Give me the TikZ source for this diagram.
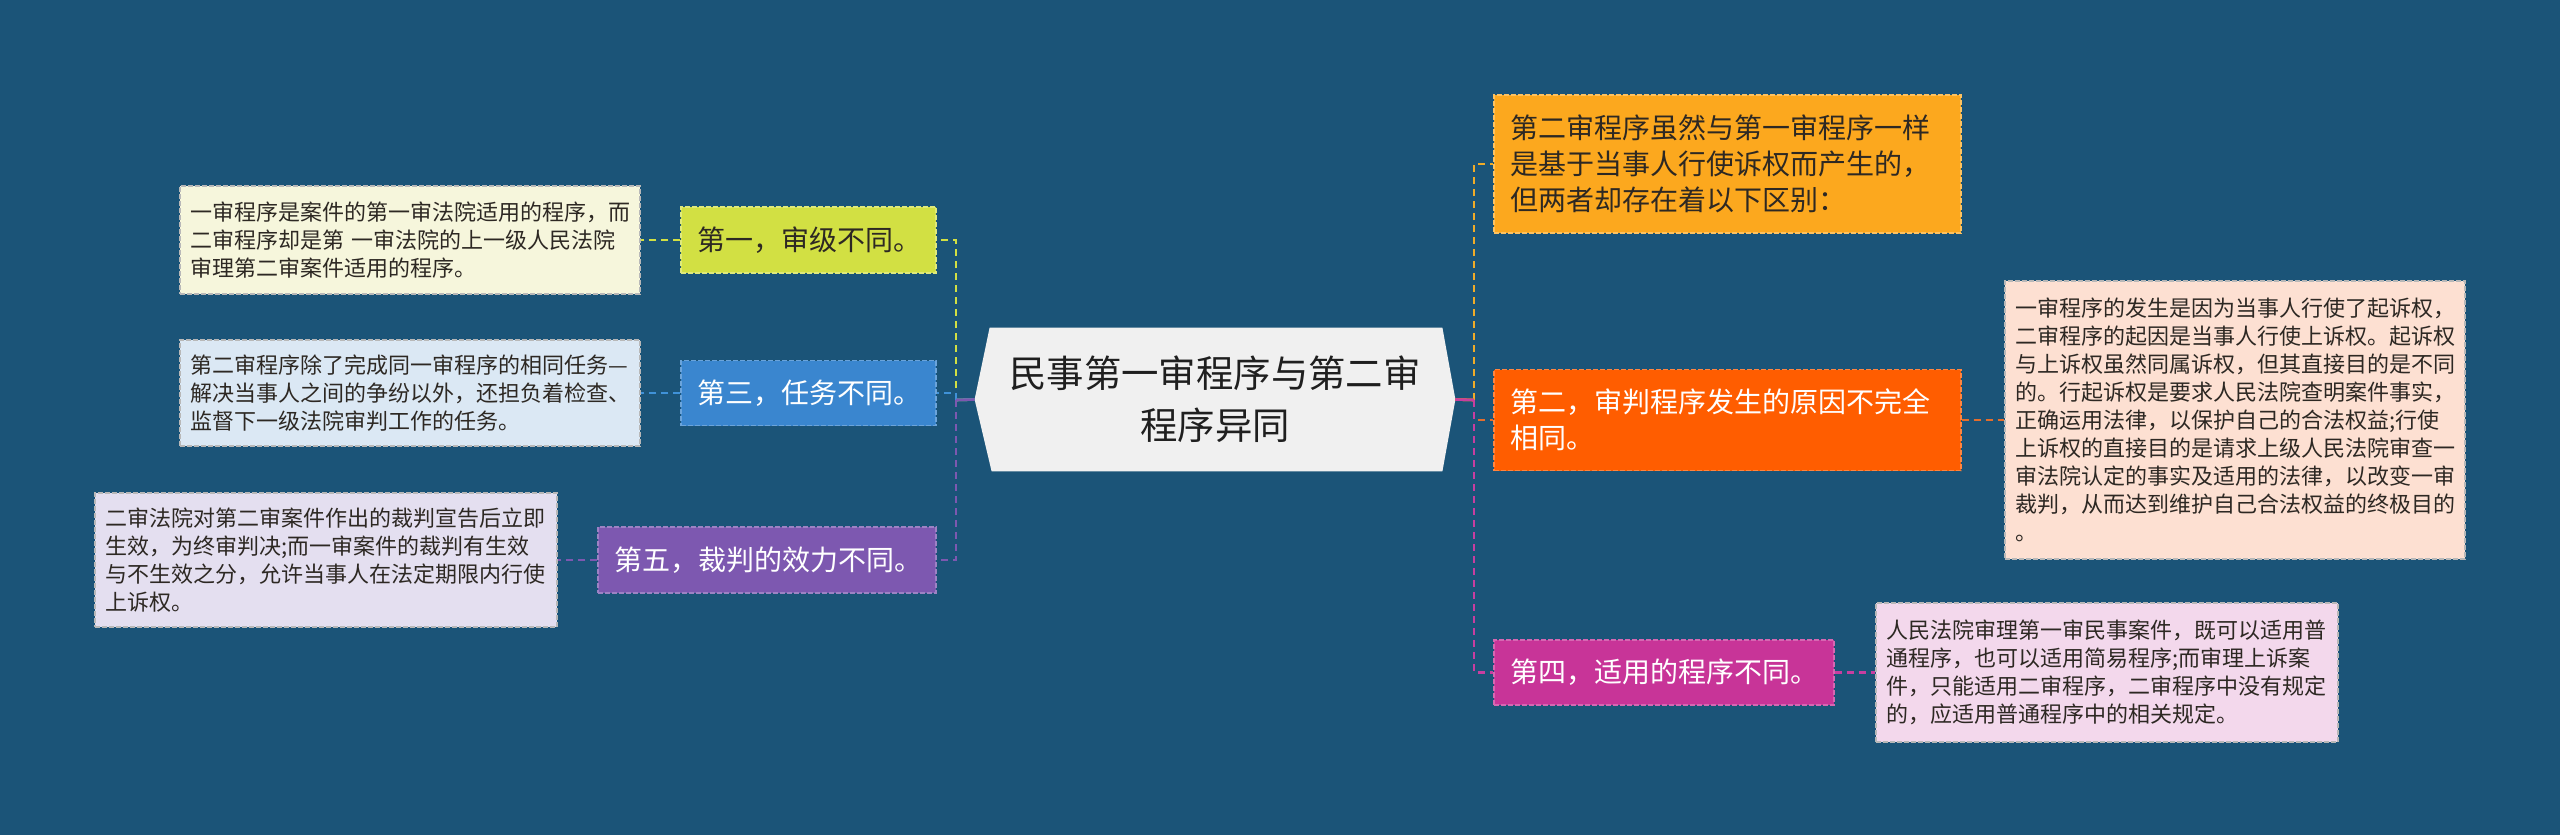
\documentclass[tikz,border=0pt]{standalone}
\usepackage{fontspec}
\setmainfont{Noto Sans CJK SC}
\definecolor{bg}{RGB}{27,84,120}
\definecolor{cyl}{RGB}{210,224,67}
\definecolor{dyl}{RGB}{246,246,220}
\definecolor{cbl}{RGB}{58,134,207}
\definecolor{lbl}{RGB}{64,146,216}
\definecolor{dbl}{RGB}{219,232,244}
\definecolor{cpu}{RGB}{125,88,176}
\definecolor{dpu}{RGB}{228,223,240}
\definecolor{cor}{RGB}{252,168,30}
\definecolor{lor}{RGB}{240,172,40}
\definecolor{crd}{RGB}{255,93,0}
\definecolor{lrd}{RGB}{228,110,45}
\definecolor{drd}{RGB}{253,224,210}
\definecolor{cmg}{RGB}{200,52,152}
\definecolor{lmg}{RGB}{200,62,160}
\definecolor{dmg}{RGB}{243,216,236}
\definecolor{cen}{RGB}{240,240,240}
\definecolor{dtxt}{RGB}{45,40,35}
\tikzset{
  conn/.style={line width=1.3pt, dash pattern=on 3.5pt off 2.5pt},
  stem/.style={line width=1.3pt},
  topic/.style={rectangle, inner xsep=8pt, inner ysep=2pt, align=left,
    font=\fontsize{14pt}{18pt}\selectfont, line width=0.7pt, dash pattern=on 2.5pt off 1pt},
  detail/.style={rectangle, inner xsep=5pt, inner ysep=2pt, align=left, text=dtxt,
    font=\fontsize{11pt}{14pt}\selectfont, draw=white!72!black, line width=0.6pt,
    dash pattern=on 2.5pt off 1pt}
}
\begin{document}
\begin{tikzpicture}[x=0.5pt,y=-0.5pt]
\useasboundingbox (0,0) rectangle (2560,835);
\fill[bg] (0,0) rectangle (2560,835);

% centre
\node[minimum width=240pt, minimum height=71.5pt, inner sep=0pt] (c) at (1215,399.5) {};
\fill[cen] (c.west) -- ([xshift=7.5pt]c.north west) -- ([xshift=-6.5pt]c.north east) -- (c.east)
  -- ([xshift=-6.5pt]c.south east) -- ([xshift=8.5pt]c.south west) -- cycle;
\node[align=center, text=black!88, font=\fontsize{18.7pt}{26pt}\selectfont] (ct) at (c.center)
  {民事第一审程序与第二审\\程序异同};

\coordinate (lb) at (956,400);
\coordinate (rb) at (1474,400);

% left topics
\node[topic, fill=cyl, draw=cyl!70!white, text=dtxt, minimum width=127.5pt, minimum height=33pt, text width=111.5pt] (n1) at (808.5,240) {第一，审级不同。};
\node[topic, fill=cbl, draw=cbl!75!white, text=white, minimum width=127.5pt, minimum height=32.5pt, text width=111.5pt] (n3) at (808.5,393) {第三，任务不同。};
\node[topic, fill=cpu, draw=cpu!75!white, text=white, minimum width=169pt, minimum height=33pt, text width=153pt] (n5) at (767,560) {第五，裁判的效力不同。};

\node[detail, fill=dyl, minimum width=230pt, minimum height=54pt, text width=220pt] (d1) at (410,240)
  {一审程序是案件的第一审法院适用的程序，而\\二审程序却是第 一审法院的上一级人民法院\\审理第二审案件适用的程序。};
\node[detail, fill=dbl, minimum width=230pt, minimum height=53pt, text width=220pt] (d3) at (410,393)
  {第二审程序除了完成同一审程序的相同任务—\\解决当事人之间的争纷以外，还担负着检查、\\监督下一级法院审判工作的任务。};
\node[detail, fill=dpu, minimum width=231pt, minimum height=67pt, text width=221pt] (d5) at (326,560)
  {二审法院对第二审案件作出的裁判宣告后立即\\生效，为终审判决;而一审案件的裁判有生效\\与不生效之分，允许当事人在法定期限内行使\\上诉权。};

% right topics
\node[topic, fill=cor, draw=cor!70!white, text=dtxt, minimum width=233.5pt, minimum height=69pt, text width=217.5pt] (o1) at (1727.5,164)
  {第二审程序虽然与第一审程序一样\\是基于当事人行使诉权而产生的，\\但两者却存在着以下区别：};
\node[topic, fill=crd, draw=crd!75!white, text=white, minimum width=233.5pt, minimum height=50.5pt, text width=217.5pt] (n2) at (1727.5,420)
  {第二，审判程序发生的原因不完全\\相同。};
\node[topic, fill=cmg, draw=cmg!75!white, text=white, minimum width=170pt, minimum height=32.5pt, text width=154pt] (n4) at (1664,672.5) {第四，适用的程序不同。};

\node[detail, fill=drd, minimum width=230pt, minimum height=139pt, text width=220pt] (d2) at (2235,420)
  {一审程序的发生是因为当事人行使了起诉权，\\二审程序的起因是当事人行使上诉权。起诉权\\与上诉权虽然同属诉权，但其直接目的是不同\\的。行起诉权是要求人民法院查明案件事实，\\正确运用法律，以保护自己的合法权益;行使\\上诉权的直接目的是请求上级人民法院审查一\\审法院认定的事实及适用的法律，以改变一审\\裁判，从而达到维护自己合法权益的终极目的\\。};
\node[detail, fill=dmg, minimum width=231pt, minimum height=69.5pt, text width=221pt] (d4) at (2107,672.5)
  {人民法院审理第一审民事案件，既可以适用普\\通程序，也可以适用简易程序;而审理上诉案\\件，只能适用二审程序，二审程序中没有规定\\的，应适用普通程序中的相关规定。};

% connectors left
\draw[stem, cyl] (c.west) -- (lb);
\draw[conn, cyl] (lb) |- (n1.east);
\draw[stem, lbl] (c.west) -- (lb);
\draw[conn, lbl] (lb) |- (n3.east);
\draw[stem, cpu] (c.west) -- (lb);
\draw[conn, cpu] (lb) |- (n5.east);
\draw[conn, cyl] (n1.west) -- (d1.east);
\draw[conn, lbl] (n3.west) -- (d3.east);
\draw[conn, cpu] (n5.west) -- (d5.east);

% connectors right
\draw[stem, lor] (c.east) -- (rb);
\draw[conn, lor] (rb) |- (o1.west);
\draw[stem, lrd] (c.east) -- (rb);
\draw[conn, lrd] (rb) |- (n2.west);
\draw[stem, lmg] (c.east) -- (rb);
\draw[conn, lmg] (rb) |- (n4.west);
\draw[conn, lrd] (n2.east) -- (d2.west);
\draw[conn, lmg] (n4.east) -- (d4.west);
\end{tikzpicture}
\end{document}
